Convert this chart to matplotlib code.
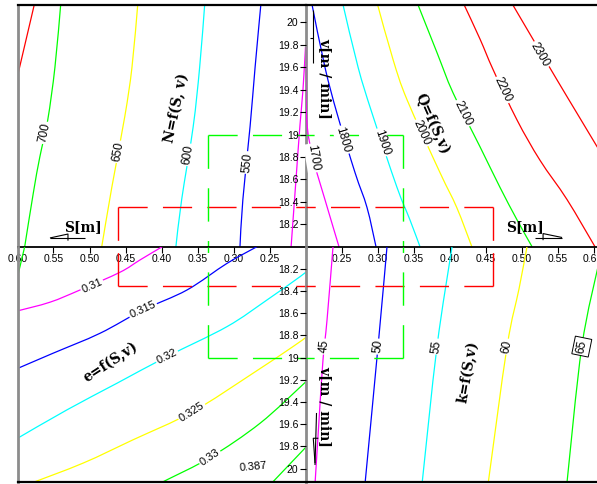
import numpy as np
import matplotlib
matplotlib.use("Agg")
import matplotlib.pyplot as plt
from matplotlib.ticker import FuncFormatter
from matplotlib.path import Path
from matplotlib.patches import PathPatch
from matplotlib.transforms import ScaledTranslation

plt.rcParams['font.family'] = ['Liberation Sans', 'DejaVu Sans']

# ---------------- axis values ----------------
S_CENTER = 0.20          # feed S at the crossing of the two axes
S_RIGHT_END = 0.6055     # right half runs a little past 0.60
S_LEFT_END = 0.60
V_CENTER = 18.0          # speed v at the crossing
V_TOP_END = 20.15
V_BOT_END = 20.12

s_ticks = [0.25, 0.30, 0.35, 0.40, 0.45, 0.50, 0.55, 0.60]
v_ticks = [18.2, 18.4, 18.6, 18.8, 19.0, 19.2, 19.4, 19.6, 19.8, 20.0]

# ---------------- N = f(S, v)  (upper left) ----------------
n_750_s = [0.5766, 0.600]
n_750_v = [20.16, 19.52]
n_700_s = [0.540, 0.548, 0.558, 0.569, 0.578, 0.590]
n_700_v = [20.16, 19.60, 19.13, 18.80, 18.48, 18.00]
n_650_s = [0.433, 0.441, 0.451, 0.469, 0.483]
n_650_v = [20.16, 19.60, 19.16, 18.53, 18.00]
n_600_s = [0.340, 0.347, 0.356, 0.372, 0.380]
n_600_v = [20.16, 19.60, 19.07, 18.42, 18.00]
n_550_s = [0.262, 0.270, 0.277, 0.287, 0.291]
n_550_v = [20.16, 19.60, 19.07, 18.42, 18.00]
n_500_s = [0.200, 0.2035, 0.2076, 0.2132, 0.220]
n_500_v = [19.78, 19.40, 19.09, 18.60, 18.00]

# ---------------- Q = f(S, v)  (upper right) ----------------
q_1700_s = [0.200, 0.2017, 0.2104, 0.227, 0.2465]
q_1700_v = [19.78, 19.13, 18.79, 18.42, 18.00]
q_1800_s = [0.209, 0.227, 0.2437, 0.2688, 0.2854, 0.2979]
q_1800_v = [20.16, 19.60, 19.19, 18.66, 18.35, 18.00]
q_1900_s = [0.252, 0.273, 0.2924, 0.327, 0.345, 0.359]
q_1900_v = [20.16, 19.60, 19.19, 18.53, 18.24, 18.00]
q_2000_s = [0.300, 0.3215, 0.341, 0.3868, 0.410, 0.431]
q_2000_v = [20.16, 19.67, 19.31, 18.66, 18.35, 18.00]
q_2100_s = [0.356, 0.3826, 0.405, 0.4424, 0.470, 0.4937, 0.5146]
q_2100_v = [20.16, 19.73, 19.37, 18.89, 18.53, 18.24, 18.00]
q_2200_s = [0.420, 0.4424, 0.4604, 0.4937, 0.5257, 0.5632, 0.602]
q_2200_v = [20.16, 19.85, 19.58, 19.13, 18.77, 18.42, 18.00]
q_2300_s = [0.4875, 0.5076, 0.549, 0.577, 0.606]
q_2300_v = [20.16, 19.94, 19.49, 19.19, 18.88]

# ---------------- e = f(S, v)  (lower left) ----------------
e_305_s = [0.590, 0.601]
e_305_v = [18.00, 18.30]
e_310_s = [0.399, 0.430, 0.4576, 0.5132, 0.5549, 0.601]
e_310_v = [18.00, 18.12, 18.23, 18.39, 18.50, 18.58]
e_315_s = [0.2674, 0.309, 0.3646, 0.4257, 0.4854, 0.5507, 0.601]
e_315_v = [18.00, 18.15, 18.39, 18.57, 18.78, 18.96, 19.10]
e_320_s = [0.200, 0.2076, 0.2535, 0.309, 0.3924, 0.4618, 0.5313, 0.601]
e_320_v = [18.23, 18.27, 18.48, 18.72, 18.99, 19.23, 19.47, 19.73]
e_325_s = [0.200, 0.2174, 0.2729, 0.3576, 0.4396, 0.509, 0.585]
e_325_v = [18.82, 18.90, 19.14, 19.49, 19.74, 19.95, 20.14]
e_330_s = [0.200, 0.263, 0.3326, 0.3924, 0.4044]
e_330_v = [19.22, 19.59, 19.90, 20.10, 20.14]
e_387_s = [0.200, 0.2396, 0.2484]
e_387_v = [19.81, 20.08, 20.14]

# ---------------- k = f(S, v)  (lower right) ----------------
k_45_s = [0.2382, 0.2299, 0.2243, 0.2188, 0.2132]
k_45_v = [18.00, 18.66, 19.02, 19.56, 20.14]
k_50_s = [0.3132, 0.3007, 0.2826]
k_50_v = [18.00, 18.90, 20.14]
k_55_s = [0.4035, 0.3826, 0.3618]
k_55_v = [18.00, 18.90, 20.14]
k_60_s = [0.5076, 0.4965, 0.4799, 0.4535]
k_60_v = [18.00, 18.38, 18.90, 20.14]
k_65_s = [0.6076, 0.5837, 0.5629]
k_65_v = [18.14, 18.90, 20.14]

# ---------------- reference windows (dashed) ----------------
red_box_s, red_box_v = 0.46, 18.35
green_box_s, green_box_v = 0.335, 19.0

RED, GREEN, YELLOW = '#ff0000', '#00ff00', '#ffff00'
CYAN, BLUE, MAGENTA = '#00ffff', '#0000ff', '#ff00ff'

# ---------------- figure & quadrant axes ----------------
W_PX, H_PX = 597, 484
fig = plt.figure(figsize=(W_PX / 100, H_PX / 100), dpi=100)
fig.patch.set_facecolor('white')

X_L, X_M, X_R = 17.5, 305.5, 597.5
Y_T, Y_M, Y_B = 5.5, 246.7, 482.0


def px_rect(x0, y0, x1, y1):
    return [x0 / W_PX, 1 - y1 / H_PX, (x1 - x0) / W_PX, (y1 - y0) / H_PX]


ax_tl = fig.add_axes(px_rect(X_L, Y_T, X_M, Y_M))
ax_tr = fig.add_axes(px_rect(X_M, Y_T, X_R, Y_M))
ax_bl = fig.add_axes(px_rect(X_L, Y_M, X_M, Y_B))
ax_br = fig.add_axes(px_rect(X_M, Y_M, X_R, Y_B))

ax_tl.set_xlim(S_LEFT_END, S_CENTER)
ax_tl.set_ylim(V_CENTER, V_TOP_END)
ax_tr.set_xlim(S_CENTER, S_RIGHT_END)
ax_tr.set_ylim(V_CENTER, V_TOP_END)
ax_bl.set_xlim(S_LEFT_END, S_CENTER)
ax_bl.set_ylim(V_BOT_END, V_CENTER)
ax_br.set_xlim(S_CENTER, S_RIGHT_END)
ax_br.set_ylim(V_BOT_END, V_CENTER)

GRAY = '#8c8c8c'
for ax in (ax_tl, ax_tr, ax_bl, ax_br):
    ax.set_facecolor('none')
    ax.set_xticks([])
    ax.set_yticks([])
    for sp in ax.spines.values():
        sp.set_visible(False)

# outer frame and the two central axes
ax_tl.spines['left'].set(visible=True, color=GRAY, linewidth=2.0)
ax_bl.spines['left'].set(visible=True, color=GRAY, linewidth=2.0)
ax_tl.spines['right'].set(visible=True, color=GRAY, linewidth=2.0, zorder=5)
ax_bl.spines['right'].set(visible=True, color=GRAY, linewidth=2.0, zorder=5)
for ax in (ax_tl, ax_tr):
    ax.spines['top'].set(visible=True, color='black', linewidth=1.6)
    ax.spines['bottom'].set(visible=True, color='black', linewidth=1.3, zorder=5)
for ax in (ax_bl, ax_br):
    ax.spines['bottom'].set(visible=True, color='black', linewidth=1.6)

s_fmt = FuncFormatter(lambda x, p: f"{x:.2f}")
v_fmt = FuncFormatter(lambda y, p: f"{y:g}")
for ax in (ax_tl, ax_tr):
    ax.set_xticks(s_ticks)
    ax.xaxis.set_major_formatter(s_fmt)
    ax.xaxis.set_ticks_position('bottom')
    ax.tick_params(axis='x', direction='out', length=4, width=0.8,
                   pad=1.5, labelsize=7.5)
for ax in (ax_tr, ax_br):
    ax.set_yticks(v_ticks)
    ax.yaxis.set_major_formatter(v_fmt)
    ax.yaxis.set_ticks_position('left')
    ax.tick_params(axis='y', direction='out', length=4, width=0.8,
                   pad=1.0, labelsize=7.5)

# the last tick on the right sits at the border: show it short and keep it inside
ax_tr.set_xticklabels([f"{t:.2f}" for t in s_ticks[:-1]] + [f"{s_ticks[-1]:g}"])
last = ax_tr.get_xticklabels()[-1]
last.set_transform(last.get_transform()
                   + ScaledTranslation(-4 / 100, 0, fig.dpi_scale_trans))


def smooth_path(s, v):
    """Catmull-Rom curve through the given points as cubic Bezier pieces."""
    p = np.column_stack([s, v]).astype(float)
    if len(p) < 3:
        return Path(p)
    ext = np.vstack([p[0], p, p[-1]])
    verts = [p[0]]
    codes = [Path.MOVETO]
    for i in range(1, len(ext) - 2):
        p0, p1, p2, p3 = ext[i - 1], ext[i], ext[i + 1], ext[i + 2]
        verts += [p1 + (p2 - p0) / 6, p2 - (p3 - p1) / 6, p2]
        codes += [Path.CURVE4] * 3
    return Path(verts, codes)


def draw_contour(ax, s, v, color, value=None, at=None, fs=8.5, boxed=False):
    ax.add_patch(PathPatch(smooth_path(s, v), fc='none', ec=color,
                           lw=0.9, zorder=2))
    if value is None:
        return
    pts = ax.transData.transform(np.column_stack([s, v]))
    p = ax.transData.transform([at])[0]
    best, ang = None, 0.0
    for a, b in zip(pts[:-1], pts[1:]):
        d = b - a
        t = np.clip(np.dot(p - a, d) / np.dot(d, d), 0, 1)
        dist = np.hypot(*(a + t * d - p))
        if best is None or dist < best:
            best = dist
            ang = np.degrees(np.arctan2(d[1], d[0]))
    if ang > 90:
        ang -= 180
    elif ang <= -90:
        ang += 180
    box = dict(boxstyle='square,pad=0.12', fc='white', ec='none')
    if boxed:
        box = dict(boxstyle='square,pad=0.2', fc='white', ec='black', lw=0.7)
    ax.text(at[0], at[1], f"{value:g}", rotation=ang, rotation_mode='anchor',
            ha='center', va='center', fontsize=fs, bbox=box, zorder=4)


# upper left: N
draw_contour(ax_tl, n_750_s, n_750_v, RED)
draw_contour(ax_tl, n_700_s, n_700_v, GREEN, 700, (0.562, 19.015))
draw_contour(ax_tl, n_650_s, n_650_v, YELLOW, 650, (0.460, 18.846))
draw_contour(ax_tl, n_600_s, n_600_v, CYAN, 600, (0.363, 18.82))
draw_contour(ax_tl, n_550_s, n_550_v, BLUE, 550, (0.281, 18.75))
draw_contour(ax_tl, n_500_s, n_500_v, MAGENTA)

# upper right: Q
draw_contour(ax_tr, q_1700_s, q_1700_v, MAGENTA, 1700, (0.2104, 18.79))
draw_contour(ax_tr, q_1800_s, q_1800_v, BLUE, 1800, (0.252, 18.95))
draw_contour(ax_tr, q_1900_s, q_1900_v, CYAN, 1900, (0.306, 18.93))
draw_contour(ax_tr, q_2000_s, q_2000_v, YELLOW, 2000, (0.3618, 19.015))
draw_contour(ax_tr, q_2100_s, q_2100_v, GREEN, 2100, (0.4188, 19.19))
draw_contour(ax_tr, q_2200_s, q_2200_v, RED, 2200, (0.4743, 19.40))
draw_contour(ax_tr, q_2300_s, q_2300_v, RED, 2300, (0.5257, 19.71))

# lower left: e
draw_contour(ax_bl, e_305_s, e_305_v, GREEN)
draw_contour(ax_bl, e_310_s, e_310_v, MAGENTA, 0.31, (0.4965, 18.35), fs=8)
draw_contour(ax_bl, e_315_s, e_315_v, BLUE, 0.315, (0.4257, 18.57), fs=8)
draw_contour(ax_bl, e_320_s, e_320_v, CYAN, 0.32, (0.3924, 18.99), fs=8)
draw_contour(ax_bl, e_325_s, e_325_v, YELLOW, 0.325, (0.3576, 19.49), fs=8)
draw_contour(ax_bl, e_330_s, e_330_v, GREEN, 0.33, (0.3326, 19.90), fs=8)
draw_contour(ax_bl, e_387_s, e_387_v, GREEN)
ax_bl.text(0.273, 19.985, f"{0.387:g}", rotation=5, ha='center', va='center',
           fontsize=8, zorder=4)

# lower right: k
draw_contour(ax_br, k_45_s, k_45_v, MAGENTA, 45, (0.2262, 18.90))
draw_contour(ax_br, k_50_s, k_50_v, BLUE, 50, (0.3007, 18.90))
draw_contour(ax_br, k_55_s, k_55_v, CYAN, 55, (0.3826, 18.90))
draw_contour(ax_br, k_60_s, k_60_v, YELLOW, 60, (0.4799, 18.90))
draw_contour(ax_br, k_65_s, k_65_v, GREEN, 65, (0.5837, 18.90), boxed=True)

# dashed windows, drawn from their outer corner towards the axes
for ax in (ax_tl, ax_tr, ax_bl, ax_br):
    for bs, bv, col in ((red_box_s, red_box_v, RED),
                        (green_box_s, green_box_v, GREEN)):
        ax.plot([bs, S_CENTER], [bv, bv], color=col, lw=1.0,
                dashes=(21, 11), zorder=3)
        ax.plot([bs, bs], [bv, V_CENTER], color=col, lw=1.0,
                dashes=(24, 14), zorder=3)

# function names
title_kw = dict(fontsize=10, fontweight='bold', family='DejaVu Serif',
                ha='center', va='center', rotation_mode='anchor', zorder=5)
ax_tl.text(0.3785, 19.238, "N=f(S, v)", rotation=78, **title_kw)
ax_tr.text(0.3757, 19.096, "Q=f(S,v)", rotation=-66, **title_kw)
ax_bl.text(0.470, 19.039, "e=f(S,v)", rotation=33, **title_kw)
ax_br.text(0.4257, 19.129, "k=f(S,v)", rotation=80, **title_kw)

# axis names
name_kw = dict(fontsize=10, fontweight='bold', family='DejaVu Serif',
               ha='center', va='center', zorder=5)
ax_tr.text(0.227, 19.497, "v[m / min]", rotation=-90, **name_kw)
ax_br.text(0.227, 19.435, "v[m / min]", rotation=-90, **name_kw)
ax_tl.text(0.509, 18.176, "S[m]", **name_kw)
ax_tr.text(0.505, 18.176, "S[m]", **name_kw)

# half arrow heads along the axes
arr_kw = dict(color='black', lw=0.8, zorder=5, solid_capstyle='butt')
ax_tl.plot([0.5549, 0.5063], [18.078, 18.078], **arr_kw)
ax_tl.plot([0.5549, 0.5299, 0.5299], [18.078, 18.113, 18.054], **arr_kw)
ax_tr.plot([0.5188, 0.5563], [18.082, 18.082], **arr_kw)
ax_tr.plot([0.5563, 0.5299, 0.5299], [18.082, 18.117, 18.058], **arr_kw)
ax_tr.plot([0.2104, 0.2104], [20.113, 19.64], **arr_kw)
ax_tr.plot([0.2056, 0.2104], [19.863, 19.863], **arr_kw)
ax_br.plot([0.2153, 0.2132], [19.498, 19.967], **arr_kw)
ax_br.plot([0.2178, 0.2108, 0.2132], [19.726, 19.726, 19.95], **arr_kw)

fig.savefig("out.png", dpi=100)
